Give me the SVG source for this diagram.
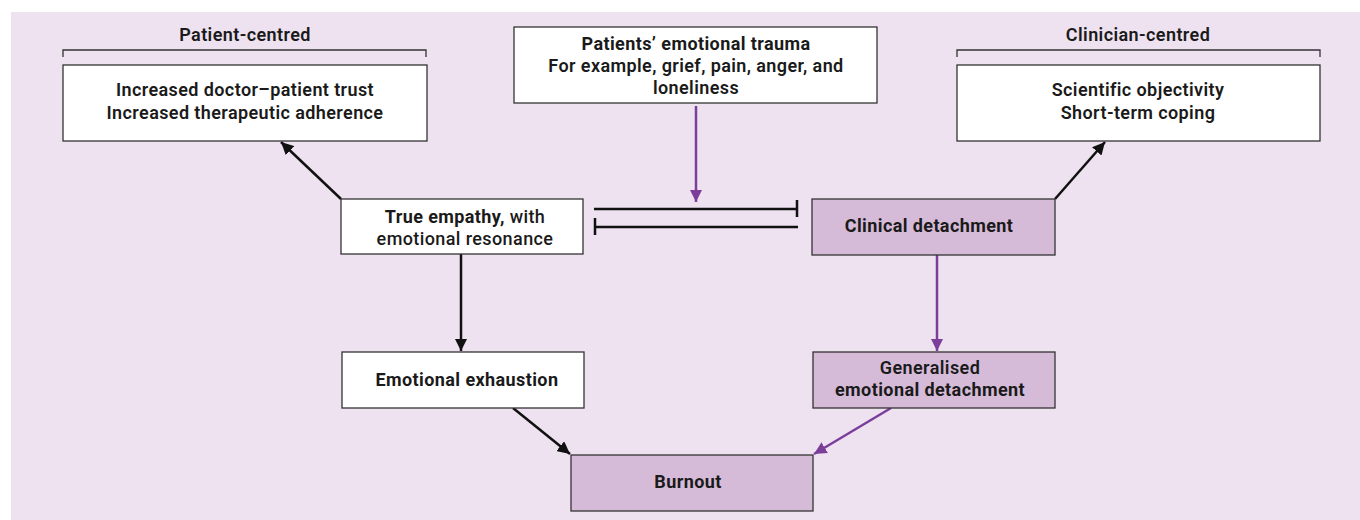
<svg xmlns="http://www.w3.org/2000/svg" width="1360" height="520" viewBox="0 0 1360 520">
<style>
text{font-family:Roboto,"Liberation Sans",sans-serif;font-size:18px;font-weight:600;letter-spacing:0.4px;fill:#1a1a1a;text-anchor:middle}
.b{font-weight:700}
.m{font-weight:500}
.w{fill:#ffffff;stroke:#333333;stroke-width:1.3}
.p{fill:#d6bbd8;stroke:#333333;stroke-width:1.3}
.k{stroke:#111111;stroke-width:2.5;fill:none}
.v{stroke:#7b3f9b;stroke-width:2.5;fill:none}
.br{stroke:#333333;stroke-width:1.3;fill:none}
</style>
<defs>
<marker id="ak" viewBox="0 0 10 10" refX="10" refY="5" markerWidth="5" markerHeight="5" markerUnits="strokeWidth" orient="auto"><path d="M0,0 L10,5 L0,10 z" fill="#111111"/></marker>
<marker id="av" viewBox="0 0 10 10" refX="10" refY="5" markerWidth="5" markerHeight="5" markerUnits="strokeWidth" orient="auto"><path d="M0,0 L10,5 L0,10 z" fill="#7b3f9b"/></marker>
</defs>
<rect x="11" y="12" width="1349" height="508" fill="#eee2f0"/>
<g id="labels">
<text x="245" y="41">Patient-centred</text>
<path class="br" d="M63,57 V50 H426 V57"/>
<text x="1138" y="41">Clinician-centred</text>
<path class="br" d="M957,57 V50 H1320 V57"/>
</g>
<g id="connectors">
<line class="k" x1="341" y1="199" x2="281" y2="142" marker-end="url(#ak)"/>
<line class="k" x1="1055" y1="199" x2="1105" y2="142" marker-end="url(#ak)"/>
<line class="k" x1="461" y1="254" x2="461" y2="351" marker-end="url(#ak)"/>
<line class="v" x1="937" y1="255" x2="937" y2="351" marker-end="url(#av)"/>
<line class="k" x1="513" y1="408" x2="570" y2="454" marker-end="url(#ak)"/>
<line class="v" x1="891" y1="408" x2="814" y2="454" marker-end="url(#av)"/>
<line class="v" x1="696" y1="106" x2="696" y2="202" marker-end="url(#av)"/>
<path class="k" d="M594,209 H797 M797,200 V217"/>
<path class="k" d="M798,227 H595 M595,218 V235"/>
</g>
<g id="n-patient">
<rect class="w" x="63" y="65" width="364" height="76"/>
<text x="245" y="96">Increased doctor–patient trust</text>
<text x="245" y="119">Increased therapeutic adherence</text>
</g>
<g id="n-trauma">
<rect class="w" x="514" y="27" width="363" height="76"/>
<text class="b" x="696" y="50">Patients’ emotional trauma</text>
<text x="696" y="72">For example, grief, pain, anger, and</text>
<text x="696" y="94">loneliness</text>
</g>
<g id="n-clinician">
<rect class="w" x="957" y="65" width="363" height="76"/>
<text x="1138" y="96">Scientific objectivity</text>
<text x="1138" y="119">Short-term coping</text>
</g>
<g id="n-empathy">
<rect class="w" x="341" y="199" width="242" height="55"/>
<text x="465" y="223"><tspan class="b">True empathy,</tspan><tspan class="m"> with</tspan></text>
<text class="m" x="465" y="245">emotional resonance</text>
</g>
<g id="n-detach">
<rect class="p" x="812" y="199" width="243" height="56"/>
<text class="b" x="929" y="232">Clinical detachment</text>
</g>
<g id="n-exhaust">
<rect class="w" x="342" y="352" width="242" height="56"/>
<text class="b" x="467" y="386">Emotional exhaustion</text>
</g>
<g id="n-general">
<rect class="p" x="813" y="352" width="242" height="56"/>
<text x="930" y="374">Generalised</text>
<text class="b" x="930" y="396">emotional detachment</text>
</g>
<g id="n-burnout">
<rect class="p" x="571" y="455" width="242" height="56"/>
<text class="b" x="688" y="488">Burnout</text>
</g>
</svg>
